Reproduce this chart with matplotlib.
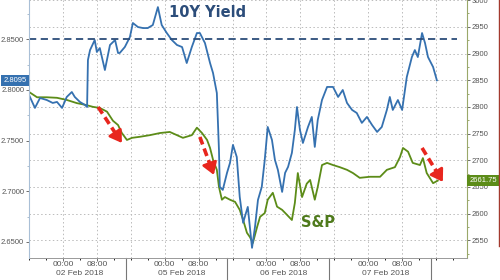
import matplotlib
matplotlib.use('Agg')
import matplotlib.pyplot as plt
from matplotlib.lines import Line2D
from matplotlib.ticker import MultipleLocator, FixedLocator

plt.rcParams['font.family'] = ['Liberation Sans', 'DejaVu Sans']

blue_color = '#3571b0'
green_color = '#5c8c18'
title_blue = '#2c4d7a'
sp_green = '#4f7a1c'
red_color = '#e8261e'

# hours since 02 Feb 00:00 (trading days packed into 24h blocks)
yield_hours = [-8.0, -6.6, -5.4, -3.8, -2.4, -1.4, -0.2, 0.9, 2.1, 2.8, 4.0, 5.2, 5.7,
               5.9, 6.4, 7.5, 8.0, 8.7, 9.9, 11.1, 12.3, 13.0, 13.4, 14.6, 15.8, 16.5,
               17.7, 18.9, 20.0, 21.2, 22.4, 23.3, 24.5, 25.7, 26.9, 28.1, 29.2, 30.4,
               31.6, 32.3, 33.5, 34.7, 35.4, 36.3, 36.6, 36.8, 37.0, 37.7, 38.7, 39.4,
               40.1, 41.0, 41.7, 42.5, 42.9, 43.6, 44.6, 45.3, 46.0, 46.9, 47.6, 48.3,
               49.3, 50.0, 50.7, 51.7, 52.4, 53.1, 54.0, 54.7, 55.2, 55.9, 56.6, 57.8,
               58.7, 59.4, 60.1, 61.1, 62.3, 63.7, 64.9, 66.0, 67.0, 68.2, 69.3, 70.5,
               71.7, 72.9, 74.1, 75.2, 76.4, 77.1, 77.8, 79.0, 80.0, 81.1, 82.3, 83.0,
               83.7, 84.7, 85.4, 86.1, 87.3, 88.2]
yield_values = [2.7951, 2.7823, 2.7921, 2.7901, 2.7872, 2.7882, 2.7823, 2.7931, 2.7980,
                2.7931, 2.7882, 2.7852, 2.7832, 2.8296, 2.8394, 2.8493, 2.8375, 2.8414,
                2.8197, 2.8444, 2.8493, 2.8365, 2.8365, 2.8424, 2.8523, 2.8661, 2.8621,
                2.8611, 2.8611, 2.8641, 2.8818, 2.8641, 2.8562, 2.8493, 2.8444, 2.8424,
                2.8266, 2.8424, 2.8562, 2.8562, 2.8463, 2.8266, 2.8168, 2.7970, 2.7635,
                2.7408, 2.7044, 2.7014, 2.7182, 2.7280, 2.7458, 2.7339, 2.6945, 2.6689,
                2.6748, 2.6846, 2.6442, 2.6649, 2.6915, 2.7044, 2.7310, 2.7635, 2.7507,
                2.7310, 2.7211, 2.6994, 2.7182, 2.7241, 2.7379, 2.7606, 2.7832, 2.7606,
                2.7477, 2.7635, 2.7734, 2.7438, 2.7704, 2.7901, 2.8030, 2.8030, 2.7931,
                2.8000, 2.7872, 2.7803, 2.7773, 2.7675, 2.7734, 2.7655, 2.7586, 2.7635,
                2.7803, 2.7931, 2.7803, 2.7901, 2.7803, 2.8128, 2.8325, 2.8394, 2.8325,
                2.8562, 2.8463, 2.8325, 2.8227, 2.8095]

spx_hours = [-8.0, -6.1, -3.8, -1.4, 0.9, 3.3, 5.2, 7.1, 8.7, 10.4, 11.8, 13.0, 13.9,
             15.1, 16.3, 18.2, 20.5, 22.9, 25.2, 26.9, 28.3, 30.4, 31.6, 32.8, 34.0,
             34.7, 35.4, 36.3, 36.8, 37.5, 38.2, 39.4, 40.6, 41.7, 42.5, 43.4, 44.1,
             44.8, 45.8, 46.5, 47.6, 48.3, 49.5, 50.5, 51.7, 52.8, 54.0, 54.7, 55.4,
             56.4, 57.5, 58.3, 59.4, 60.1, 61.1, 62.3, 63.7, 65.3, 67.0, 68.4, 70.0,
             72.4, 74.8, 76.4, 78.3, 79.5, 80.2, 81.4, 82.5, 84.2, 84.9, 85.8, 87.3, 88.4]
spx_values = [2828, 2818, 2818, 2817, 2813, 2807, 2804, 2800, 2798, 2791, 2774, 2766, 2751,
              2738, 2742, 2744, 2747, 2751, 2753, 2747, 2742, 2747, 2761, 2751, 2738,
              2723, 2701, 2682, 2650, 2626, 2631, 2626, 2622, 2607, 2588, 2564, 2556,
              2545, 2575, 2594, 2601, 2626, 2639, 2613, 2607, 2598, 2588, 2620, 2676,
              2631, 2656, 2663, 2626, 2650, 2691, 2695, 2691, 2687, 2682, 2676, 2667,
              2669, 2669, 2682, 2687, 2706, 2723, 2716, 2695, 2691, 2704, 2676, 2657, 2661.75]

day_labels = ['02 Feb 2018', '05 Feb 2018', '06 Feb 2018', '07 Feb 2018']
yield_level = 2.85
yield_last = '2.8095'
spx_last = '2661.75'

# red dashed arrows (start hour, start yield, end hour, end yield)
arrows = [(8.3, 2.7832, 13.9, 2.7477),
          (32.3, 2.7536, 35.6, 2.7162),
          (84.7, 2.7428, 89.6, 2.7093)]

fig = plt.figure(figsize=(5.0, 2.8), dpi=100)
ax2 = fig.add_axes([0.058, 0.079, 0.876, 0.921])
ax = ax2.twinx()
ax.yaxis.tick_left()
ax2.yaxis.tick_right()
ax.set_zorder(ax2.get_zorder() + 1)
ax.patch.set_visible(False)

ax.set_xlim(-8, 95.3)
ax.set_ylim(2.6343, 2.8888)
ax2.set_ylim(2517, 3000.3)

# grid from the right axis ticks and every 8 hours
grid_style = dict(color='#bbbbbb', linestyle=(0, (1.5, 2.5)), linewidth=0.7)
ax2.yaxis.set_major_locator(MultipleLocator(50))
ax2.yaxis.set_minor_locator(MultipleLocator(25))
ax2.grid(axis='y', which='major', **grid_style)
for h in range(0, 96, 8):
    ax2.axvline(h, zorder=0, **grid_style)

ax2.plot(spx_hours, spx_values, color=green_color, linewidth=1.3)
ax.plot(yield_hours, yield_values, color=blue_color, linewidth=1.3)
ax.plot([-8, 93], [yield_level, yield_level], color=title_blue, linewidth=1.3,
        linestyle=(0, (4, 2.5)))

for x0, y0, x1, y1 in arrows:
    fx = x0 + (x1 - x0) * 0.72
    fy = y0 + (y1 - y0) * 0.72
    ax.plot([x0, fx], [y0, fy], color=red_color, linewidth=2.6, linestyle=(0, (2.2, 1.2)))
    ax.annotate('', xy=(x1, y1), xytext=(fx, fy),
                arrowprops=dict(arrowstyle='-|>,head_length=0.7,head_width=0.45',
                                color=red_color, lw=2.0, shrinkA=0, shrinkB=0))

ax.text(34.0, 2.8769, '10Y Yield', color=title_blue, fontsize=10.5, fontweight='bold',
        family='DejaVu Sans', ha='center', va='center')
ax2.text(60.1, 2584, 'S&P', color=sp_green, fontsize=10.5, fontweight='bold',
         family='DejaVu Sans', ha='center', va='center')

# axis styling
ax.yaxis.set_major_locator(MultipleLocator(0.05))
ax.yaxis.set_minor_locator(MultipleLocator(0.025))
ax.yaxis.set_major_formatter(plt.FuncFormatter(lambda v, p: f'{v:.4f}'))
ax.tick_params(axis='y', labelsize=5.5, colors='#555555', length=2.5, width=0.6, pad=1)
ax.tick_params(axis='y', which='minor', length=1.5, colors='#9fb3c8')
ax2.tick_params(axis='y', labelsize=5.5, colors='#555555', length=2.5, width=0.6, pad=1)
ax2.tick_params(axis='y', which='minor', length=1.5, colors='#8a9a5b')

major_hours = [24 * d + h for d in range(4) for h in (0, 8)]
ax2.xaxis.set_major_locator(FixedLocator(major_hours))
ax2.set_xticklabels(['00:00' if i % 2 == 0 else '08:00' for i in range(len(major_hours))])
ax2.xaxis.set_minor_locator(MultipleLocator(4))
ax2.tick_params(axis='x', labelsize=6, colors='#555555', length=2.0, width=0.6, pad=0.5)
ax2.tick_params(axis='x', which='minor', length=1.5)
ax.tick_params(axis='x', bottom=False, labelbottom=False)

for a in (ax, ax2):
    for s in a.spines.values():
        s.set_visible(False)
ax.spines['left'].set_visible(True)
ax.spines['left'].set_color('#a9bfd6')
ax2.spines['right'].set_visible(True)
ax2.spines['right'].set_color('#9aa86a')
ax2.spines['bottom'].set_visible(True)
ax2.spines['bottom'].set_color('#999999')
ax2.spines['bottom'].set_linewidth(0.7)

trans = ax2.get_xaxis_transform()
for d, label in enumerate(day_labels):
    ax2.text(24 * d + 4, -0.062, label, transform=trans, fontsize=6, color='#555555',
             ha='center', va='center', clip_on=False)
    sep = 24 * d + 14.8
    ax2.plot([sep, sep], [0, -0.085], transform=trans, color='#777777', linewidth=0.8,
             clip_on=False)

# last value boxes
ax.text(-0.005, 2.8095, yield_last, transform=ax.get_yaxis_transform(), fontsize=5.5,
        color='white', ha='right', va='center', clip_on=False,
        bbox=dict(boxstyle='square,pad=0.3', facecolor=blue_color, edgecolor='none'))
ax2.text(1.006, 2661.75, spx_last, transform=ax2.get_yaxis_transform(), fontsize=5.5,
         color='white', ha='left', va='center', clip_on=False,
         bbox=dict(boxstyle='square,pad=0.3', facecolor=green_color, edgecolor='none'))

fig.add_artist(Line2D([0.997, 0.997], [0.12, 1.0], color='#a33a2e', linewidth=1.0))

fig.savefig('out.png', dpi=100)
